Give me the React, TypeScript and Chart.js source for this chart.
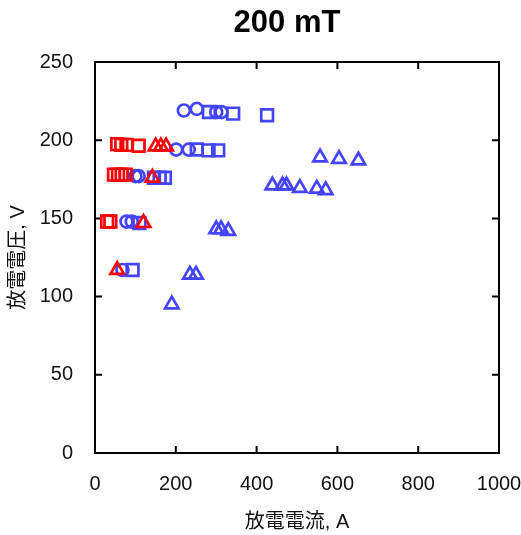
import React, { useEffect, useRef } from 'react';
import { Chart, registerables } from 'chart.js';

Chart.register(...registerables);

const TITLE = '200 mT';
const X_LABEL = '放電電流, A';
const Y_LABEL = '放電電圧, V';
const X_TICKS = [0, 200, 400, 600, 800, 1000];
const Y_TICKS = [0, 50, 100, 150, 200, 250];

const RED = '#ff0000';
const BLUE = '#4444ff';

// red squares
const redSquareX = [55, 65, 78, 108, 47, 57, 66, 76, 30, 38];
const redSquareY = [197.5, 197, 197, 196.5, 178, 178, 178, 178, 148, 148];
// red triangles
const redTriangleX = [150, 163, 176, 142, 120, 55];
const redTriangleY = [196, 196, 196, 176, 147, 117];
// blue circles
const blueCircleX = [220, 252, 300, 313, 201, 232, 100, 108, 78, 91, 68];
const blueCircleY = [219, 220, 218, 218, 194, 194, 177, 177, 148, 148, 117];
// blue squares
const blueSquareX = [282, 342, 426, 252, 281, 305, 146, 160, 173, 110, 93];
const blueSquareY = [218, 217, 216, 194, 193.5, 193.5, 176, 176, 176, 147, 117];
// blue triangles
const blueTriangleX = [190, 235, 250, 300, 312, 330, 439, 464, 474, 507, 549, 571, 557, 604, 652];
const blueTriangleY = [95, 114, 114, 143, 143, 142, 171, 171, 171, 169.5, 169, 168, 189, 188, 187];

const zip = (xs: number[], ys: number[]) => xs.map((x, i) => ({ x, y: ys[i] }));

const FONT = "'Liberation Sans', Arial, 'Noto Sans CJK JP', sans-serif";

const framePlugin = {
  id: 'frame',
  beforeDatasetsDraw(chart: any) {
    const { ctx, chartArea, scales } = chart;
    const { left, right, top, bottom } = chartArea;
    const xs = scales.x;
    const ys = scales.y;
    const L = 7;
    ctx.save();
    ctx.strokeStyle = '#000';
    ctx.lineWidth = 2;
    ctx.beginPath();
    xs.ticks.forEach((t: any) => {
      const px = xs.getPixelForValue(t.value);
      ctx.moveTo(px, bottom);
      ctx.lineTo(px, bottom - L);
      ctx.moveTo(px, top);
      ctx.lineTo(px, top + L);
    });
    ys.ticks.forEach((t: any) => {
      const py = ys.getPixelForValue(t.value);
      ctx.moveTo(left, py);
      ctx.lineTo(left + L, py);
      ctx.moveTo(right, py);
      ctx.lineTo(right - L, py);
    });
    ctx.stroke();
    ctx.strokeRect(left, top, right - left, bottom - top);
    ctx.restore();
  },
};

const titlePlugin = {
  id: 'customTitle',
  afterDraw(chart: any) {
    const { ctx } = chart;
    ctx.save();
    ctx.fillStyle = '#000';
    ctx.font = `bold 31px ${FONT}`;
    ctx.textAlign = 'center';
    ctx.textBaseline = 'middle';
    ctx.fillText(TITLE, 287, 23);
    ctx.restore();
  },
};

export default function App() {
  const ref = useRef<HTMLCanvasElement | null>(null);

  useEffect(() => {
    if (!ref.current) return;
    const mk = (label: string, xs: number[], ys: number[], color: string, style: any, r: number) => ({
      label,
      data: zip(xs, ys),
      pointStyle: style,
      pointRadius: r,
      pointHoverRadius: r,
      borderColor: color,
      backgroundColor: 'rgba(0,0,0,0)',
      pointBorderWidth: 2.7,
      borderWidth: 2.7,
      showLine: false,
    });
    const chart = new Chart(ref.current, {
      type: 'scatter',
      data: {
        datasets: [
          mk('red squares', redSquareX, redSquareY, RED, 'rect', 8.3),
          mk('red triangles', redTriangleX, redTriangleY, RED, 'triangle', 7.8),
          mk('blue circles', blueCircleX, blueCircleY, BLUE, 'circle', 6),
          mk('blue squares', blueSquareX, blueSquareY, BLUE, 'rect', 8.3),
          mk('blue triangles', blueTriangleX, blueTriangleY, BLUE, 'triangle', 7.8),
        ],
      },
      options: {
        animation: false,
        responsive: false,
        events: [],
        layout: { padding: { top: 62, right: 22, left: 0, bottom: 0 } },
        plugins: {
          legend: { display: false },
          title: { display: false },
          tooltip: { enabled: false },
        },
        scales: {
          x: {
            type: 'linear',
            min: 0,
            max: 1000,
            afterFit: (s: any) => {
              s.height = 82;
              s.paddingLeft = 0;
              s.paddingRight = 0;
            },
            afterBuildTicks: (s: any) => { s.ticks = X_TICKS.map((v) => ({ value: v })); },
            grid: { display: false, drawTicks: false },
            border: { display: false },
            ticks: {
              autoSkip: false,
              maxRotation: 0,
              padding: 19,
              color: '#111',
              font: { family: FONT, size: 20 },
              callback: (v: any) => String(v),
            },
            title: {
              display: true,
              text: X_LABEL,
              color: '#111',
              padding: { top: 0, bottom: 1 },
              font: { family: FONT, size: 20 },
            },
          },
          y: {
            type: 'linear',
            min: 0,
            max: 250,
            afterFit: (s: any) => {
              s.width = 95;
              s.paddingTop = 0;
              s.paddingBottom = 0;
            },
            afterBuildTicks: (s: any) => { s.ticks = Y_TICKS.map((v) => ({ value: v })); },
            grid: { display: false, drawTicks: false },
            border: { display: false },
            ticks: {
              autoSkip: false,
              padding: 22,
              color: '#111',
              font: { family: FONT, size: 20 },
              callback: (v: any) => String(v),
            },
            title: {
              display: true,
              text: Y_LABEL,
              color: '#111',
              padding: { top: 6, bottom: 0 },
              font: { family: FONT, size: 20 },
            },
          },
        },
      },
      plugins: [framePlugin, titlePlugin],
    });
    return () => chart.destroy();
  }, []);

  return (
    <div style={{ position: 'absolute', left: 0, top: 0, width: 521, height: 535, background: '#fff' }}>
      <canvas ref={ref} width={521} height={535} style={{ width: 521, height: 535, display: 'block' }} />
    </div>
  );
}
